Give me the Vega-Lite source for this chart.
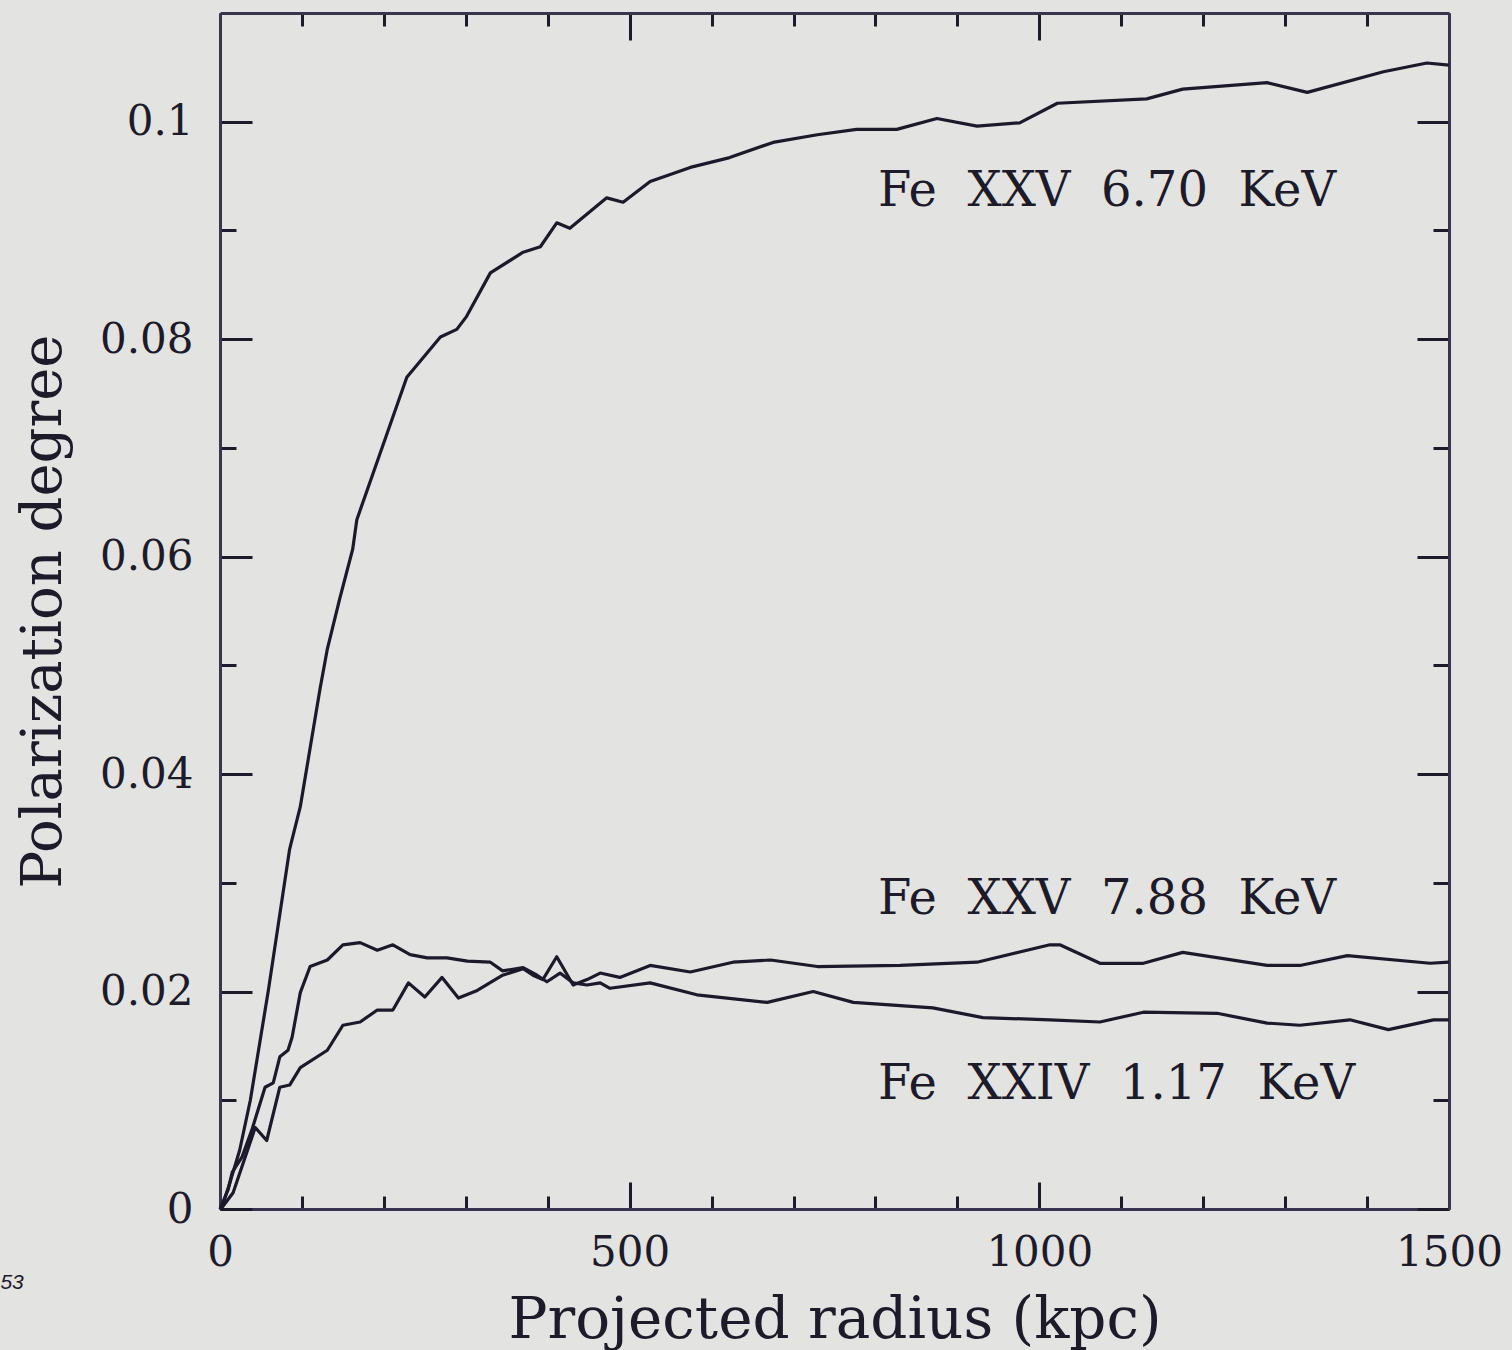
{
  "$schema": "https://vega.github.io/schema/vega-lite/v6.json",
  "width": 1229,
  "height": 1196,
  "autosize": {"type": "none"},
  "padding": {"left": 220, "top": 13, "right": 63, "bottom": 141},
  "background": "#e3e3e1",
  "config": {
    "view": {"stroke": null},
    "axis": {
      "domainColor": "#38364f",
      "domainWidth": 3,
      "tickColor": "#1d1b2a",
      "tickWidth": 3,
      "grid": false,
      "labelFont": "DejaVu Serif",
      "labelFontSize": 42,
      "labelColor": "#1d1b2a",
      "titleFont": "DejaVu Serif",
      "titleFontSize": 56,
      "titleFontWeight": "normal",
      "titleColor": "#1d1b2a",
      "labelOverlap": false,
      "labelBound": false,
      "labelFlush": false
    }
  },
  "datasets": {
    "curves": [
      {"line": "Fe XXV 6.70 KeV", "r": 0, "p": 0},
      {"line": "Fe XXV 6.70 KeV", "r": 2, "p": 0.0001},
      {"line": "Fe XXV 6.70 KeV", "r": 12, "p": 0.0024},
      {"line": "Fe XXV 6.70 KeV", "r": 24, "p": 0.0054},
      {"line": "Fe XXV 6.70 KeV", "r": 37, "p": 0.0100},
      {"line": "Fe XXV 6.70 KeV", "r": 59, "p": 0.0201},
      {"line": "Fe XXV 6.70 KeV", "r": 85, "p": 0.0331},
      {"line": "Fe XXV 6.70 KeV", "r": 98, "p": 0.0370},
      {"line": "Fe XXV 6.70 KeV", "r": 122, "p": 0.0478},
      {"line": "Fe XXV 6.70 KeV", "r": 131, "p": 0.0515},
      {"line": "Fe XXV 6.70 KeV", "r": 146, "p": 0.0561},
      {"line": "Fe XXV 6.70 KeV", "r": 162, "p": 0.0607},
      {"line": "Fe XXV 6.70 KeV", "r": 167, "p": 0.0634},
      {"line": "Fe XXV 6.70 KeV", "r": 228, "p": 0.0765},
      {"line": "Fe XXV 6.70 KeV", "r": 269, "p": 0.0802},
      {"line": "Fe XXV 6.70 KeV", "r": 289, "p": 0.0809},
      {"line": "Fe XXV 6.70 KeV", "r": 301, "p": 0.0821},
      {"line": "Fe XXV 6.70 KeV", "r": 330, "p": 0.0861},
      {"line": "Fe XXV 6.70 KeV", "r": 370, "p": 0.0880},
      {"line": "Fe XXV 6.70 KeV", "r": 391, "p": 0.0885},
      {"line": "Fe XXV 6.70 KeV", "r": 411, "p": 0.0907},
      {"line": "Fe XXV 6.70 KeV", "r": 427, "p": 0.0902},
      {"line": "Fe XXV 6.70 KeV", "r": 472, "p": 0.0930},
      {"line": "Fe XXV 6.70 KeV", "r": 492, "p": 0.0926},
      {"line": "Fe XXV 6.70 KeV", "r": 525, "p": 0.0945},
      {"line": "Fe XXV 6.70 KeV", "r": 574, "p": 0.0958},
      {"line": "Fe XXV 6.70 KeV", "r": 622, "p": 0.0967},
      {"line": "Fe XXV 6.70 KeV", "r": 675, "p": 0.0981},
      {"line": "Fe XXV 6.70 KeV", "r": 729, "p": 0.0988},
      {"line": "Fe XXV 6.70 KeV", "r": 777, "p": 0.0993},
      {"line": "Fe XXV 6.70 KeV", "r": 826, "p": 0.0993},
      {"line": "Fe XXV 6.70 KeV", "r": 875, "p": 0.1003},
      {"line": "Fe XXV 6.70 KeV", "r": 924, "p": 0.0996},
      {"line": "Fe XXV 6.70 KeV", "r": 976, "p": 0.0999},
      {"line": "Fe XXV 6.70 KeV", "r": 1022, "p": 0.1017},
      {"line": "Fe XXV 6.70 KeV", "r": 1131, "p": 0.1021},
      {"line": "Fe XXV 6.70 KeV", "r": 1175, "p": 0.1030},
      {"line": "Fe XXV 6.70 KeV", "r": 1278, "p": 0.1036},
      {"line": "Fe XXV 6.70 KeV", "r": 1327, "p": 0.1027},
      {"line": "Fe XXV 6.70 KeV", "r": 1420, "p": 0.1046},
      {"line": "Fe XXV 6.70 KeV", "r": 1473, "p": 0.1054},
      {"line": "Fe XXV 6.70 KeV", "r": 1500, "p": 0.1052},

      {"line": "Fe XXV 7.88 KeV", "r": 0, "p": 0},
      {"line": "Fe XXV 7.88 KeV", "r": 2, "p": 0.0001},
      {"line": "Fe XXV 7.88 KeV", "r": 16, "p": 0.0015},
      {"line": "Fe XXV 7.88 KeV", "r": 43, "p": 0.0075},
      {"line": "Fe XXV 7.88 KeV", "r": 57, "p": 0.0063},
      {"line": "Fe XXV 7.88 KeV", "r": 73, "p": 0.0112},
      {"line": "Fe XXV 7.88 KeV", "r": 85, "p": 0.0114},
      {"line": "Fe XXV 7.88 KeV", "r": 98, "p": 0.0130},
      {"line": "Fe XXV 7.88 KeV", "r": 131, "p": 0.0146},
      {"line": "Fe XXV 7.88 KeV", "r": 150, "p": 0.0169},
      {"line": "Fe XXV 7.88 KeV", "r": 171, "p": 0.0172},
      {"line": "Fe XXV 7.88 KeV", "r": 192, "p": 0.0183},
      {"line": "Fe XXV 7.88 KeV", "r": 211, "p": 0.0183},
      {"line": "Fe XXV 7.88 KeV", "r": 230, "p": 0.0208},
      {"line": "Fe XXV 7.88 KeV", "r": 250, "p": 0.0195},
      {"line": "Fe XXV 7.88 KeV", "r": 271, "p": 0.0213},
      {"line": "Fe XXV 7.88 KeV", "r": 291, "p": 0.0194},
      {"line": "Fe XXV 7.88 KeV", "r": 314, "p": 0.0201},
      {"line": "Fe XXV 7.88 KeV", "r": 345, "p": 0.0215},
      {"line": "Fe XXV 7.88 KeV", "r": 370, "p": 0.0221},
      {"line": "Fe XXV 7.88 KeV", "r": 382, "p": 0.0215},
      {"line": "Fe XXV 7.88 KeV", "r": 394, "p": 0.0211},
      {"line": "Fe XXV 7.88 KeV", "r": 411, "p": 0.0232},
      {"line": "Fe XXV 7.88 KeV", "r": 431, "p": 0.0206},
      {"line": "Fe XXV 7.88 KeV", "r": 448, "p": 0.0211},
      {"line": "Fe XXV 7.88 KeV", "r": 464, "p": 0.0217},
      {"line": "Fe XXV 7.88 KeV", "r": 488, "p": 0.0213},
      {"line": "Fe XXV 7.88 KeV", "r": 525, "p": 0.0224},
      {"line": "Fe XXV 7.88 KeV", "r": 574, "p": 0.0218},
      {"line": "Fe XXV 7.88 KeV", "r": 626, "p": 0.0227},
      {"line": "Fe XXV 7.88 KeV", "r": 672, "p": 0.0229},
      {"line": "Fe XXV 7.88 KeV", "r": 729, "p": 0.0223},
      {"line": "Fe XXV 7.88 KeV", "r": 830, "p": 0.0224},
      {"line": "Fe XXV 7.88 KeV", "r": 924, "p": 0.0227},
      {"line": "Fe XXV 7.88 KeV", "r": 1013, "p": 0.0243},
      {"line": "Fe XXV 7.88 KeV", "r": 1025, "p": 0.0243},
      {"line": "Fe XXV 7.88 KeV", "r": 1074, "p": 0.0226},
      {"line": "Fe XXV 7.88 KeV", "r": 1127, "p": 0.0226},
      {"line": "Fe XXV 7.88 KeV", "r": 1175, "p": 0.0236},
      {"line": "Fe XXV 7.88 KeV", "r": 1278, "p": 0.0224},
      {"line": "Fe XXV 7.88 KeV", "r": 1318, "p": 0.0224},
      {"line": "Fe XXV 7.88 KeV", "r": 1376, "p": 0.0233},
      {"line": "Fe XXV 7.88 KeV", "r": 1477, "p": 0.0226},
      {"line": "Fe XXV 7.88 KeV", "r": 1500, "p": 0.0227},

      {"line": "Fe XXIV 1.17 KeV", "r": 0, "p": 0},
      {"line": "Fe XXIV 1.17 KeV", "r": 10, "p": 0.0018},
      {"line": "Fe XXIV 1.17 KeV", "r": 15, "p": 0.0034},
      {"line": "Fe XXIV 1.17 KeV", "r": 27, "p": 0.0048},
      {"line": "Fe XXIV 1.17 KeV", "r": 39, "p": 0.0073},
      {"line": "Fe XXIV 1.17 KeV", "r": 55, "p": 0.0112},
      {"line": "Fe XXIV 1.17 KeV", "r": 65, "p": 0.0116},
      {"line": "Fe XXIV 1.17 KeV", "r": 73, "p": 0.0140},
      {"line": "Fe XXIV 1.17 KeV", "r": 83, "p": 0.0146},
      {"line": "Fe XXIV 1.17 KeV", "r": 88, "p": 0.0158},
      {"line": "Fe XXIV 1.17 KeV", "r": 98, "p": 0.0199},
      {"line": "Fe XXIV 1.17 KeV", "r": 110, "p": 0.0223},
      {"line": "Fe XXIV 1.17 KeV", "r": 131, "p": 0.0229},
      {"line": "Fe XXIV 1.17 KeV", "r": 150, "p": 0.0243},
      {"line": "Fe XXIV 1.17 KeV", "r": 171, "p": 0.0245},
      {"line": "Fe XXIV 1.17 KeV", "r": 192, "p": 0.0238},
      {"line": "Fe XXIV 1.17 KeV", "r": 211, "p": 0.0243},
      {"line": "Fe XXIV 1.17 KeV", "r": 232, "p": 0.0234},
      {"line": "Fe XXIV 1.17 KeV", "r": 253, "p": 0.0231},
      {"line": "Fe XXIV 1.17 KeV", "r": 277, "p": 0.0231},
      {"line": "Fe XXIV 1.17 KeV", "r": 302, "p": 0.0228},
      {"line": "Fe XXIV 1.17 KeV", "r": 330, "p": 0.0227},
      {"line": "Fe XXIV 1.17 KeV", "r": 345, "p": 0.0219},
      {"line": "Fe XXIV 1.17 KeV", "r": 370, "p": 0.0222},
      {"line": "Fe XXIV 1.17 KeV", "r": 387, "p": 0.0215},
      {"line": "Fe XXIV 1.17 KeV", "r": 399, "p": 0.0209},
      {"line": "Fe XXIV 1.17 KeV", "r": 415, "p": 0.0217},
      {"line": "Fe XXIV 1.17 KeV", "r": 431, "p": 0.0208},
      {"line": "Fe XXIV 1.17 KeV", "r": 448, "p": 0.0206},
      {"line": "Fe XXIV 1.17 KeV", "r": 464, "p": 0.0208},
      {"line": "Fe XXIV 1.17 KeV", "r": 476, "p": 0.0203},
      {"line": "Fe XXIV 1.17 KeV", "r": 525, "p": 0.0208},
      {"line": "Fe XXIV 1.17 KeV", "r": 582, "p": 0.0197},
      {"line": "Fe XXIV 1.17 KeV", "r": 668, "p": 0.0190},
      {"line": "Fe XXIV 1.17 KeV", "r": 724, "p": 0.0200},
      {"line": "Fe XXIV 1.17 KeV", "r": 773, "p": 0.0190},
      {"line": "Fe XXIV 1.17 KeV", "r": 870, "p": 0.0185},
      {"line": "Fe XXIV 1.17 KeV", "r": 931, "p": 0.0176},
      {"line": "Fe XXIV 1.17 KeV", "r": 1013, "p": 0.0174},
      {"line": "Fe XXIV 1.17 KeV", "r": 1074, "p": 0.0172},
      {"line": "Fe XXIV 1.17 KeV", "r": 1127, "p": 0.0181},
      {"line": "Fe XXIV 1.17 KeV", "r": 1217, "p": 0.0180},
      {"line": "Fe XXIV 1.17 KeV", "r": 1278, "p": 0.0171},
      {"line": "Fe XXIV 1.17 KeV", "r": 1318, "p": 0.0169},
      {"line": "Fe XXIV 1.17 KeV", "r": 1379, "p": 0.0174},
      {"line": "Fe XXIV 1.17 KeV", "r": 1426, "p": 0.0165},
      {"line": "Fe XXIV 1.17 KeV", "r": 1481, "p": 0.0174},
      {"line": "Fe XXIV 1.17 KeV", "r": 1500, "p": 0.0174}
    ],
    "curveLabels": [
      {"label": "Fe\u00a0\u00a0XXV\u00a0\u00a06.70\u00a0\u00a0KeV", "r": 803, "p": 0.0935},
      {"label": "Fe\u00a0\u00a0XXV\u00a0\u00a07.88\u00a0\u00a0KeV", "r": 803, "p": 0.0284},
      {"label": "Fe\u00a0\u00a0XXIV\u00a0\u00a01.17\u00a0\u00a0KeV", "r": 803, "p": 0.0114}
    ],
    "pageNumber": [
      {"label": "53", "r": -268, "p": -0.0068}
    ]
  },
  "layer": [
    {
      "data": {"name": "curves"},
      "mark": {"type": "line", "color": "#1c1a2a", "strokeWidth": 3.2, "strokeJoin": "round"},
      "encoding": {
        "x": {
          "field": "r",
          "type": "quantitative",
          "scale": {"domain": [0, 1500], "nice": false, "zero": false},
          "axis": {
            "orient": "bottom",
            "title": "Projected radius (kpc)",
            "titleFontSize": 58,
            "values": [0, 100, 200, 300, 400, 500, 600, 700, 800, 900, 1000, 1100, 1200, 1300, 1400, 1500],
            "tickSize": {"condition": {"test": "datum.value % 500 === 0", "value": -27}, "value": -13},
            "labelPadding": 50,
            "labelExpr": "datum.value % 500 === 0 ? '' + datum.value : ''",
            "titleAnchor": "middle",
            "titleBaseline": "alphabetic",
            "titleY": 128
          }
        },
        "y": {
          "field": "p",
          "type": "quantitative",
          "scale": {"domain": [0, 0.11], "nice": false, "zero": false},
          "axis": {
            "orient": "left",
            "title": "Polarization degree",
            "values": [0, 0.01, 0.02, 0.03, 0.04, 0.05, 0.06, 0.07, 0.08, 0.09, 0.1],
            "tickSize": {"condition": {"test": "round(datum.value * 100) % 2 === 0", "value": -32}, "value": -16},
            "labelPadding": 59,
            "labelExpr": "round(datum.value * 100) % 2 === 0 ? format(datum.value, '~g') : ''",
            "titleAngle": -90,
            "titleAlign": "center",
            "titleBaseline": "alphabetic",
            "titleX": -160,
            "titleY": 598
          }
        },
        "detail": {"field": "line", "type": "nominal"}
      }
    },
    {
      "data": {"name": "curveLabels"},
      "mark": {"type": "text", "align": "left", "baseline": "middle", "font": "DejaVu Serif", "fontSize": 48, "color": "#1d1b2a"},
      "encoding": {
        "x": {
          "field": "r",
          "type": "quantitative",
          "axis": {
            "orient": "top",
            "title": null,
            "labels": false,
            "values": [0, 100, 200, 300, 400, 500, 600, 700, 800, 900, 1000, 1100, 1200, 1300, 1400, 1500],
            "tickSize": {"condition": {"test": "datum.value % 500 === 0", "value": -27}, "value": -13}
          }
        },
        "y": {
          "field": "p",
          "type": "quantitative",
          "axis": {
            "orient": "right",
            "title": null,
            "labels": false,
            "values": [0, 0.01, 0.02, 0.03, 0.04, 0.05, 0.06, 0.07, 0.08, 0.09, 0.1],
            "tickSize": {"condition": {"test": "round(datum.value * 100) % 2 === 0", "value": -32}, "value": -16}
          }
        },
        "text": {"field": "label", "type": "nominal"}
      }
    },
    {
      "data": {"name": "pageNumber"},
      "mark": {"type": "text", "align": "left", "baseline": "middle", "font": "Liberation Sans", "fontStyle": "italic", "fontSize": 21, "color": "#1d1b2a"},
      "encoding": {
        "x": {"field": "r", "type": "quantitative", "axis": null},
        "y": {"field": "p", "type": "quantitative", "axis": null},
        "text": {"field": "label", "type": "nominal"}
      }
    }
  ],
  "resolve": {"axis": {"x": "independent", "y": "independent"}}
}
